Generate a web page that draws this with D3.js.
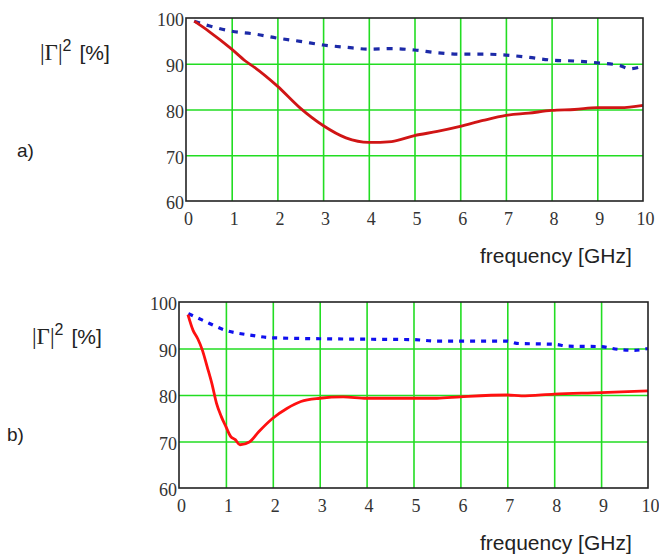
<!DOCTYPE html>
<html>
<head>
<meta charset="utf-8">
<script src="https://cdn.jsdelivr.net/npm/d3@7"></script>
<style>
  body { margin: 0; background: #fff; }
  svg { display: block; }
</style>
</head>
<body>
<div id="chart"></div>
<script>
// tick values shared by both panels
const xTicks = [0, 1, 2, 3, 4, 5, 6, 7, 8, 9, 10];
const yTicks = [60, 70, 80, 90, 100];

// panel a) - frequency [GHz] and |Gamma|^2 [%]
const freqA = [0.18, 0.5, 1, 1.3, 1.5, 2, 2.5, 3, 3.5, 4, 4.5, 5, 5.5, 6, 6.5, 7, 7.5, 8, 8.5, 9, 9.5, 10];
const redA = [99.3, 97.1, 93.2, 90.6, 89.2, 85.1, 80.3, 76.5, 73.8, 72.8, 73.0, 74.3, 75.2, 76.3, 77.6, 78.7, 79.2, 79.8, 80.0, 80.4, 80.4, 80.9];
const blueFreqA = [0.18, 0.5, 1, 1.5, 2, 2.5, 3, 3.5, 4, 4.5, 5, 5.5, 6, 6.5, 7, 7.5, 8, 8.5, 9, 9.5, 9.7, 10];
const blueA = [99.3, 98.3, 97.1, 96.5, 95.6, 94.9, 94.1, 93.6, 93.2, 93.3, 93.0, 92.4, 92.1, 92.1, 91.9, 91.4, 90.8, 90.6, 90.2, 89.6, 88.9, 89.5];

// panel b)
const freqB = [0.19, 0.3, 0.4, 0.5, 0.6, 0.7, 0.8, 0.9, 1.0, 1.1, 1.2, 1.3, 1.5, 1.7, 2.0, 2.3, 2.6, 3.0, 3.5, 4, 5, 5.5, 6, 7, 7.3, 8, 9, 10];
const redB = [97.3, 93.9, 92.1, 89.6, 86.1, 82.5, 78.2, 75.4, 73.2, 71.1, 70.4, 69.3, 69.9, 72.1, 75.0, 77.1, 78.6, 79.3, 79.6, 79.3, 79.3, 79.3, 79.6, 80.0, 79.8, 80.2, 80.5, 80.9];
const blueFreqB = [0.2, 0.5, 1, 1.5, 2, 3, 4, 5, 5.5, 6, 7, 7.2, 8, 8.3, 9, 9.3, 9.7, 10];
const blueB = [97.5, 96.1, 93.9, 92.9, 92.3, 92.1, 92.0, 91.9, 91.6, 91.6, 91.6, 91.1, 90.9, 90.5, 90.4, 89.9, 89.6, 90.0];

const W = 659, H = 556;
const SERIF = '"Liberation Serif", "Times New Roman", serif';
const SANS = '"Liberation Sans", Arial, sans-serif';

const svg = d3.select("#chart")
    .append("svg")
    .attr("width", W)
    .attr("height", H);

// draw one panel
function panel(opt) {
    const x = d3.scaleLinear().domain([0, 10]).range([opt.left, opt.right]);
    const y = d3.scaleLinear().domain([60, 100]).range([opt.bottom, opt.top]);
    const g = svg.append("g");

    // green grid
    g.append("g")
        .attr("transform", `translate(0,${opt.bottom})`)
        .call(d3.axisBottom(x).tickValues(xTicks.slice(1, -1)).tickSize(-(opt.bottom - opt.top)).tickFormat(""))
        .call(s => s.select(".domain").remove())
        .selectAll("line").attr("stroke", "#22dd22").attr("stroke-width", 1.6);
    g.append("g")
        .attr("transform", `translate(${opt.left},0)`)
        .call(d3.axisLeft(y).tickValues(yTicks.slice(1, -1)).tickSize(-(opt.right - opt.left)).tickFormat(""))
        .call(s => s.select(".domain").remove())
        .selectAll("line").attr("stroke", "#22dd22").attr("stroke-width", 1.6);

    // tick labels
    const xa = g.append("g")
        .attr("transform", `translate(2,${opt.bottom + 8})`)
        .call(d3.axisBottom(x).tickValues(xTicks).tickSize(0).tickPadding(0));
    xa.select(".domain").remove();
    xa.selectAll("text")
        .style("font-family", SERIF)
        .style("font-size", "18px").attr("fill", "#333").attr("dy", "0.9em");

    const ya = g.append("g")
        .attr("transform", `translate(${opt.left - 2},2)`)
        .call(d3.axisLeft(y).tickValues(yTicks).tickSize(0).tickPadding(0));
    ya.select(".domain").remove();
    ya.selectAll("text")
        .style("font-family", SERIF)
        .style("font-size", "18px").attr("fill", "#333");

    const line = d3.line()
        .x(d => x(d[0]))
        .y(d => y(d[1]))
        .curve(d3.curveMonotoneX);

    g.append("path")
        .datum(opt.blueX.map((f, i) => [f, opt.blue[i]]))
        .attr("d", line)
        .attr("fill", "none")
        .attr("stroke", opt.blueColor)
        .attr("stroke-width", 3.2)
        .attr("stroke-dasharray", opt.dash);

    g.append("path")
        .datum(opt.redX.map((f, i) => [f, opt.red[i]]))
        .attr("d", line)
        .attr("fill", "none")
        .attr("stroke", opt.redColor)
        .attr("stroke-width", 2.8);

    // frame
    g.append("rect")
        .attr("x", opt.left).attr("y", opt.top)
        .attr("width", opt.right - opt.left)
        .attr("height", opt.bottom - opt.top)
        .attr("fill", "none")
        .attr("stroke", "#222")
        .attr("stroke-width", 1.6);

    // |Gamma|^2 [%] label
    const lab = svg.append("text")
        .attr("x", opt.labX).attr("y", opt.labY)
        .attr("fill", "#222");
    lab.append("tspan")
        .style("font-family", SERIF)
        .style("font-size", "23px")
        .text("|Γ|");
    lab.append("tspan")
        .style("font-family", SANS)
        .style("font-size", "16px")
        .attr("dy", -9)
        .text("2");
    lab.append("tspan")
        .style("font-family", SANS)
        .style("font-size", "21px")
        .attr("dy", 9)
        .attr("dx", 8)
        .text("[%]");

    // a) / b)
    svg.append("text")
        .attr("x", opt.tagX).attr("y", opt.tagY)
        .style("font-family", SANS)
        .style("font-size", "19px")
        .attr("fill", "#222")
        .text(opt.tag);

    svg.append("text")
        .attr("x", opt.freqX).attr("y", opt.freqY)
        .style("font-family", SANS)
        .style("font-size", "21px")
        .attr("fill", "#222")
        .text("frequency [GHz]");
}

panel({
    left: 186, right: 643, top: 18, bottom: 201,
    redX: freqA, red: redA, blueX: blueFreqA, blue: blueA,
    redColor: "#d01515", blueColor: "#1c2aa8", dash: "6,7",
    labX: 40, labY: 60, tag: "a)", tagX: 17, tagY: 157,
    freqX: 480, freqY: 263
});

panel({
    left: 179, right: 648, top: 302, bottom: 488,
    redX: freqB, red: redB, blueX: blueFreqB, blue: blueB,
    redColor: "#ff1010", blueColor: "#1010ee", dash: "5,6",
    labX: 32, labY: 344, tag: "b)", tagX: 7, tagY: 441,
    freqX: 480, freqY: 550
});
</script>
</body>
</html>
